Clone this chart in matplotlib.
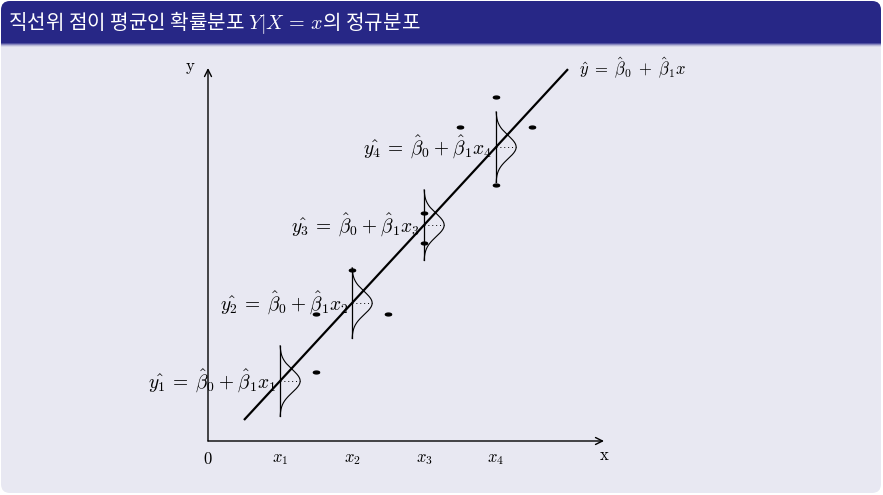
import numpy as np
import matplotlib as mpl
mpl.use('Agg')
import matplotlib.pyplot as plt
from matplotlib.patches import FancyBboxPatch, Rectangle
from matplotlib.path import Path

plt.rcParams['mathtext.fontset'] = 'cm'

# regression line  y = b0 + b1 x
beta0 = -0.25
beta1 = 1.083
line_x = [0.5, 5.0]

# x positions of the conditional normal curves
x_pos = [1, 2, 3, 4]
x_labels = ['$x_1$', '$x_2$', '$x_3$', '$x_4$']

# observed points
pts_x = [1.5, 1.5, 2.0, 2.5, 3.0, 3.0, 3.5, 4.0, 4.0, 4.5]
pts_y = [0.96, 1.76, 2.38, 1.76, 3.17, 2.75, 4.36, 4.78, 3.56, 4.36]

title = '직선위 점이 평균인 확률분포 $Y|X\\,=\\,x$의 정규분포'

W, H = 883, 495
fig = plt.figure(figsize=(W / 100, H / 100), dpi=100)

# background (pixel coords)
bg = fig.add_axes([0, 0, 1, 1])
bg.set_xlim(0, W)
bg.set_ylim(H, 0)
bg.axis('off')
body = '#E8E8F2'
bar = '#272786'
bg.add_patch(FancyBboxPatch((1, 1), W - 3, H - 3, boxstyle='round,pad=0,rounding_size=9',
                            fc=body, ec='none'))
bg.add_patch(FancyBboxPatch((1, 1), W - 3, 40, boxstyle='round,pad=0,rounding_size=9',
                            fc=bar, ec='none'))
bg.add_patch(Rectangle((1, 20), W - 3, 23, fc=bar, ec='none'))
shade = ['#5050A0', '#8888BE', '#B8B8D8', '#D8D8E8']
for i, c in enumerate(shade):
    bg.add_patch(Rectangle((1, 43 + i), W - 3, 1, fc=c, ec='none'))
bg.text(8, 23, title, color='white', fontsize=14.5, va='center', ha='left',
        family=['Noto Sans CJK KR', 'DejaVu Sans'])

# chart axes: origin at pixel (208, 441), 72 px per unit
ox, oy, u = 208, 441, 72
ax = fig.add_axes([0, 0, 1, 1])
ax.set_xlim(-ox / u, (W - ox) / u)
ax.set_ylim(-(H - oy) / u, oy / u)
ax.axis('off')
ax.patch.set_alpha(0)

arr = dict(arrowstyle='->,head_length=0.5,head_width=0.25', color='black', lw=1.0,
           shrinkA=0, shrinkB=0)
ax.annotate('', xy=(5.5, 0), xytext=(0, 0), arrowprops=arr)
ax.annotate('', xy=(0, 5.18), xytext=(0, 0), arrowprops=arr)
ax.text(5.5, -0.2, r'$\mathrm{x}$', ha='center', va='center', fontsize=12)
ax.text(-0.24, 5.2, r'$\mathrm{y}$', ha='center', va='center', fontsize=12)
ax.text(0, -0.25, '$0$', ha='center', va='center', fontsize=12)
for xp, lab in zip(x_pos, x_labels):
    ax.text(xp, -0.23, lab, ha='center', va='center', fontsize=12)

lx = np.array(line_x)
ax.plot(lx, beta0 + beta1 * lx, color='black', lw=1.6, solid_capstyle='butt')
ax.text(5.15, 5.18, r'$\hat{y}\;=\;\hat{\beta}_0\;+\;\hat{\beta}_1x$', ha='left',
        va='center', fontsize=12)

# conditional normal curves
half, peak, sd = 0.49, 0.28, 0.16
for i, xp in enumerate(x_pos):
    mu = beta0 + beta1 * xp
    yy = np.linspace(mu - half, mu + half, 200)
    ax.plot([xp, xp], [mu - half, mu + half], color='black', lw=0.9)
    ax.plot(xp + peak * np.exp(-0.5 * ((yy - mu) / sd) ** 2), yy, color='black', lw=0.8)
    ax.plot([xp, xp + peak], [mu, mu], color='black', lw=0.7, ls=(0, (1, 3)))
    ax.text(xp - 0.05, mu,
            r'$\hat{y_%d}\:=\:\hat{\beta}_0\:+\:\hat{\beta}_1x_%d$' % (i + 1, i + 1),
            ha='right', va='center', fontsize=14)

# observed points as small flat ellipses
t = np.linspace(0, 2 * np.pi, 40)
ell = Path(np.column_stack([np.cos(t), 0.45 * np.sin(t)]))
ax.plot(pts_x, pts_y, ls='none', marker=ell, markersize=4.5, color='black')

fig.savefig('out.png', dpi=100)
